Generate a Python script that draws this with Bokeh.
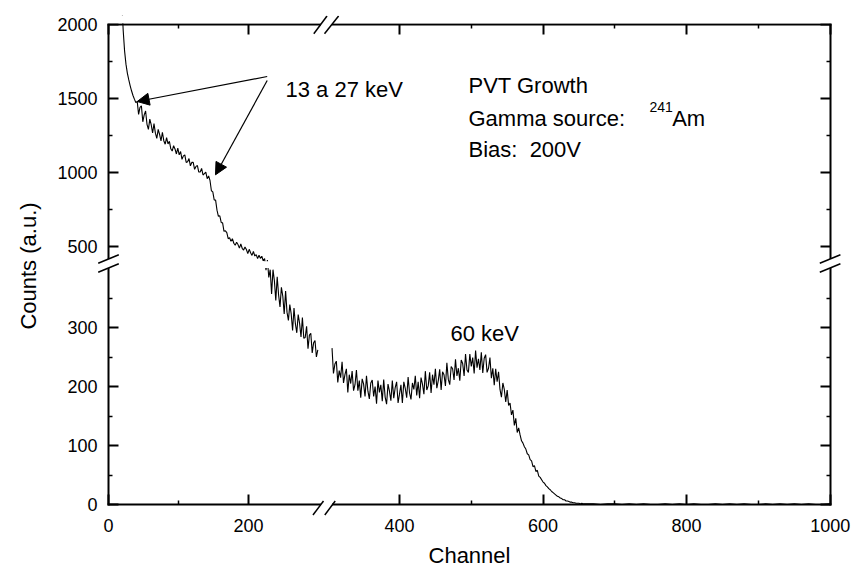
import numpy as np
from bokeh.plotting import figure
from bokeh.models import (Range1d, LinearAxis, FixedTicker, Label, Arrow,
                          NormalHead, BoxAnnotation, ColumnDataSource)
from bokeh.embed import file_html
from bokeh.resources import INLINE

# ---------------- data ----------------
channel_left = list(range(19, 300, 2))
counts_left = [2150, 1960, 1820, 1730, 1670, 1625, 1585, 1550, 1520, 1495, 1472,
               1480, 1392, 1439, 1450, 1342, 1389, 1415, 1325, 1290, 1360,
               1322, 1266, 1330, 1265, 1230, 1290, 1256, 1212, 1271, 1214,
               1190, 1234, 1192, 1210, 1159, 1144, 1180, 1158, 1124, 1164,
               1118, 1141, 1088, 1111, 1118, 1067, 1072, 1093, 1044, 1067,
               1068, 1020, 1040, 1046, 1002, 1002, 1027, 982, 991, 1002,
               957, 975,
               945, 875, 868, 813, 812, 744, 702, 706, 661, 658,
               601, 604, 592, 551, 557, 533, 551, 520, 507, 527,
               511, 487, 515, 486, 474, 494, 478, 450, 479, 456,
               438, 465, 434, 443, 416, 439, 418, 432, 401, 417,
               397, 407,
               385, 398, 357, 398, 379, 346, 386, 355, 335, 368,
               353, 323, 362, 326, 312, 339, 323, 295, 333, 306,
               291, 322, 307, 284, 317, 282, 283, 302, 264, 287,
               290, 257, 274, 278, 250, 262]

channel_right = list(range(306, 661, 2))
counts_right = [265, 222, 238, 243, 207, 227, 215, 242, 206, 220,
                230, 190, 220, 205, 226, 193, 203, 228, 193, 210,
                181, 213, 204, 183, 218, 192, 179, 206, 211, 183,
                200, 171, 210, 190, 203, 175, 212, 182, 170, 204,
                192, 176, 210, 180, 198, 208, 172, 187, 203, 172,
                208, 197, 181, 216, 189, 178, 206, 195, 218, 185,
                208, 180, 215, 204, 187, 226, 194, 201, 224, 189,
                220, 203, 230, 197, 210, 229, 194, 225, 220, 201,
                240, 212, 203, 234, 230, 211, 246, 218, 231, 210,
                245, 239, 218, 255, 228, 224, 255, 234, 249, 222,
                261, 232, 247, 228, 258, 223, 248, 254, 224, 231,
                249, 214, 231, 202, 230, 208, 225, 195, 182, 206,
                195, 174, 194, 168,
                172, 152, 160, 134, 146, 122, 130, 118, 108, 104,
                98, 94, 86, 84, 76, 74, 64, 66, 56, 58,
                48, 46, 42, 38,
                36, 32, 30, 27, 25, 22, 20, 18, 16, 14,
                13, 11, 10, 8, 8, 6, 6, 5, 4, 4,
                3, 3, 2, 2, 2, 1, 2, 1, 1, 1]

channel_tail = list(range(670, 1001, 10))
counts_tail = [1, 0, 1, 1, 0, 1, 0, 1, 0, 0, 1, 0, 1, 0, 1, 0, 0, 1, 0, 1, 0, 1, 0, 0, 1, 0,
               1, 0, 1, 0, 1, 0, 0, 1]

assert len(channel_left) == len(counts_left), (len(channel_left), len(counts_left))
assert len(channel_right) == len(counts_right), (len(channel_right), len(counts_right))
assert len(channel_tail) == len(counts_tail)

x_major = [0, 200, 400, 600, 800, 1000]
x_minor = [100, 500, 700, 900]
y_major = [0, 100, 200, 300, 500, 1000, 1500, 2000]
y_minor = [50, 150, 250, 350, 750, 1250, 1750]

# ---------------- broken-axis scales (display unit = 1 px) ----------------
XL, XR, X_CUT, X_R0, X_R0_POS = 0.70, 0.7178, 300.0, 400.0, 291.0
YL, YU, Y_CUT, Y_U0_POS = 0.59, 0.1478, 400.0, 243.5
BOX_W, BOX_H = 722.0, 480.0


def fx(c):
    c = np.asarray(c, dtype=float)
    return np.where(c <= X_CUT, c * XL, X_R0_POS + (c - X_R0) * XR)


def fy(v):
    v = np.asarray(v, dtype=float)
    return np.where(v <= Y_CUT, v * YL, Y_U0_POS + (v - Y_CUT) * YU)


FONT = "Liberation Sans"

# frame slightly larger than the axes box, so that break marks are not clipped
p = figure(width=854, height=572, x_range=Range1d(-11, 733), y_range=Range1d(-12, 489),
           output_backend="svg", toolbar_location=None,
           x_axis_type=None, y_axis_type=None,
           min_border_left=97, min_border_right=13, min_border_top=15, min_border_bottom=56)
p.outline_line_color = None
p.background_fill_color = "white"
p.border_fill_color = "white"

xt = [float(v) for v in fx(x_major)]
xm = [float(v) for v in fx(x_minor)]
yt = [float(v) for v in fy(y_major)]
ym = [float(v) for v in fy(y_minor)]


def box_axis(ticks, minors, bounds, loc):
    ax = LinearAxis(ticker=FixedTicker(ticks=ticks, minor_ticks=minors),
                    bounds=bounds, fixed_location=loc)
    ax.axis_line_width = 2
    ax.axis_line_color = "black"
    ax.axis_line_cap = "square"
    ax.major_tick_in = 10
    ax.major_tick_out = 0
    ax.minor_tick_in = 4
    ax.minor_tick_out = 0
    ax.major_tick_line_width = 2
    ax.minor_tick_line_width = 1.5
    ax.major_label_overrides = {k: "" for k in ticks}
    ax.major_label_text_font_size = "0px"
    ax.major_label_text_color = None
    ax.major_label_standoff = 0
    return ax


def label_axis(ticks, labels, title, standoff, title_standoff):
    ax = LinearAxis(ticker=FixedTicker(ticks=ticks, minor_ticks=[]), axis_label=title)
    ax.axis_line_color = None
    ax.major_tick_line_color = None
    ax.minor_tick_line_color = None
    ax.major_tick_in = 0
    ax.major_tick_out = 0
    ax.minor_tick_in = 0
    ax.minor_tick_out = 0
    ax.major_label_overrides = {k: str(v) for k, v in zip(ticks, labels)}
    ax.major_label_text_font = FONT
    ax.major_label_text_font_size = "18px"
    ax.major_label_text_color = "black"
    ax.major_label_standoff = standoff
    ax.axis_label_text_font = FONT
    ax.axis_label_text_font_size = "22px"
    ax.axis_label_text_font_style = "normal"
    ax.axis_label_text_color = "black"
    ax.axis_label_standoff = title_standoff
    return ax


p.add_layout(box_axis(xt, xm, (0, BOX_W), 0.0), "below")
p.add_layout(box_axis(xt, xm, (0, BOX_W), BOX_H), "above")
p.add_layout(box_axis(yt, ym, (0, BOX_H), 0.0), "left")
p.add_layout(box_axis(yt, ym, (0, BOX_H), BOX_W), "right")
p.add_layout(label_axis(xt, x_major, "Channel", 2, 8), "below")
p.add_layout(label_axis(yt, y_major, "Counts (a.u.)", 0, 13), "left")

# ---------------- spectrum ----------------
src_l = ColumnDataSource(dict(x=fx(channel_left), y=fy(counts_left)))
src_r = ColumnDataSource(dict(x=fx(channel_right + channel_tail),
                              y=fy(counts_right + counts_tail)))
p.line("x", "y", source=src_l, line_color="black", line_width=1.1)
p.line("x", "y", source=src_r, line_color="black", line_width=1.1)

# hide what lies above the box and inside the y-break gap
p.add_layout(BoxAnnotation(bottom=BOX_H + 1.2, top=1000, fill_color="white", fill_alpha=1.0,
                           line_color=None))
p.add_layout(BoxAnnotation(bottom=float(fy(400)) + 0.5, top=Y_U0_POS - 0.3,
                           fill_color="white", fill_alpha=1.0, line_color=None))


# ---------------- break marks ----------------
def seg(x0, y0, x1, y1, color="black", width=1.5):
    p.add_layout(Arrow(start=None, end=None, x_start=x0, y_start=y0, x_end=x1, y_end=y1,
                       line_color=color, line_width=width))


seg(0, 236.5, 0, 245.5, "white", 6)
seg(BOX_W, 236.5, BOX_W, 245.5, "white", 6)
seg(212.5, 0, 223.5, 0, "white", 6)
seg(212.5, BOX_H, 223.5, BOX_H, "white", 6)
for (x0, y0, x1, y1) in [(-10.3, 232.3, 10.3, 240.7), (-10.3, 241.3, 10.3, 249.7),
                         (711.3, 232.3, 731.9, 240.7), (711.3, 241.3, 731.9, 249.7),
                         (204.5, -10.5, 215.0, 3.5), (216.3, -10.5, 226.7, 3.5),
                         (205.3, 470.7, 218.5, 488.5), (216.0, 470.7, 230.1, 488.5)]:
    seg(x0, y0, x1, y1)

# ---------------- annotations ----------------
for (x0, y0, x1, y1) in [(158.7, 428, 28.7, 403), (158.7, 424, 107, 329.7)]:
    p.add_layout(Arrow(end=NormalHead(size=12, fill_color="black", line_color="black"),
                       x_start=x0, y_start=y0, x_end=x1, y_end=y1,
                       line_color="black", line_width=1.2))


def lab(x, y, text, size="22px"):
    p.add_layout(Label(x=x, y=y, text=text, text_font=FONT, text_font_size=size,
                       text_color="black", text_baseline="alphabetic", text_align="left"))


lab(177, 415, "13 a 27 keV")
lab(360, 419, "PVT Growth")
lab(360, 385.7, "Gamma source:")
lab(541, 397.3, "241", "14px")
lab(563.7, 385.7, "Am")
lab(360, 354.7, "Bias:\u00a0 200V")
lab(342, 171, "60 keV")

open("out.html", "w").write(file_html(p, INLINE))
